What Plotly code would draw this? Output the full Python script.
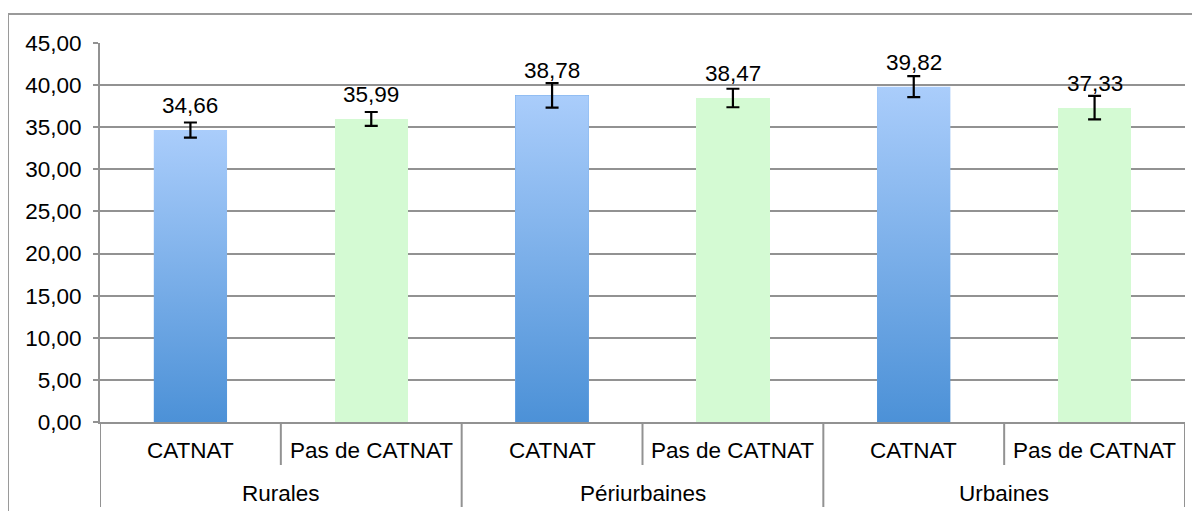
import plotly.graph_objects as go

groups = ["Rurales", "Périurbaines", "Urbaines"]
subcats = ["CATNAT", "Pas de CATNAT", "CATNAT", "Pas de CATNAT", "CATNAT", "Pas de CATNAT"]
values = [34.66, 35.99, 38.78, 38.47, 39.82, 37.33]
errors = [0.9, 0.82, 1.45, 1.1, 1.25, 1.4]
y_ticks = [0, 5, 10, 15, 20, 25, 30, 35, 40, 45]

BLUE_TOP = "#AACDFB"
BLUE_BOT = "#4C91D7"
BLUE_MID = "#79AEEA"
GREEN = "#D4FAD3"
GRID = "#929292"
FONT = "Liberation Sans, Arial, sans-serif"
FS = 22.5

idx = list(range(len(values)))
BW = 0.405

fig = go.Figure()

bar_colors = [BLUE_MID if s == "CATNAT" else GREEN for s in subcats]
fig.add_trace(go.Bar(x=idx, y=values, width=BW, marker=dict(color=bar_colors, line=dict(width=0)),
                     hoverinfo="skip", showlegend=False))

# gradient overlays for CATNAT bars
for i, (s, v) in enumerate(zip(subcats, values)):
    if s != "CATNAT":
        continue
    fig.add_trace(go.Scatter(
        x=[i - BW / 2, i - BW / 2, i + BW / 2, i + BW / 2, i - BW / 2],
        y=[0, v, v, 0, 0],
        mode="lines", line=dict(width=0), fill="toself",
        fillgradient=dict(type="vertical", start=0, stop=v,
                          colorscale=[[0, BLUE_BOT], [1, BLUE_TOP]]),
        hoverinfo="skip", showlegend=False))

# error bars
fig.add_trace(go.Scatter(x=idx, y=values, mode="markers", marker=dict(opacity=0, size=1),
                         error_y=dict(type="data", array=errors, visible=True,
                                      color="black", thickness=2.2, width=6.5),
                         hoverinfo="skip", showlegend=False))

# data labels
for i, v in enumerate(values):
    fig.add_annotation(x=i, y=v, xref="x", yref="y", text=f"{v:.2f}".replace(".", ","),
                       showarrow=False, yanchor="bottom", yshift=10,
                       font=dict(family=FONT, size=FS, color="black"))

PLOT_H = 379.0
def py(px):
    return (422 - px) / PLOT_H

def pxx(px):
    return (px - 100) / 1085.0

# inner category labels
for i, s in enumerate(subcats):
    fig.add_annotation(x=i, y=py(450), xref="x", yref="paper", text=s, showarrow=False,
                       yanchor="middle", font=dict(family=FONT, size=FS, color="black"))
# outer group labels
for g, name in enumerate(groups):
    fig.add_annotation(x=2 * g + 0.5, y=py(493), xref="x", yref="paper", text=name,
                       showarrow=False, yanchor="middle",
                       font=dict(family=FONT, size=FS, color="black"))

# separators
for k in range(len(groups)):
    fig.add_shape(type="line", xref="x", yref="paper", x0=2 * k + 0.5, x1=2 * k + 0.5,
                  y0=0, y1=py(465), line=dict(color=GRID, width=2))
for k in range(len(groups) + 1):
    xb = 2 * k - 0.5
    fig.add_shape(type="line", xref="x", yref="paper", x0=xb, x1=xb,
                  y0=0, y1=py(507), line=dict(color=GRID, width=2))

# outer frame (left and top)
fig.add_shape(type="line", xref="paper", yref="paper",
              x0=pxx(8), x1=pxx(8), y0=py(14), y1=py(520),
              line=dict(color="#9A9A9A", width=2))
fig.add_shape(type="line", xref="paper", yref="paper",
              x0=pxx(8), x1=pxx(1210), y0=py(14), y1=py(14),
              line=dict(color="#9A9A9A", width=2))

fig.update_layout(
    width=1192, height=503,
    margin=dict(l=92, r=15, t=35, b=89),
    plot_bgcolor="white", paper_bgcolor="white",
    separators=", ",
    font=dict(family=FONT, size=FS, color="black"),
    bargap=0,
    showlegend=False,
)
fig.update_xaxes(range=[-0.5, 5.5], showticklabels=False, showgrid=False, zeroline=False,
                 showline=True, linecolor=GRID, linewidth=2, ticks="")
fig.update_yaxes(range=[0, 45], tickvals=y_ticks, tickformat=".2f", showgrid=True,
                 gridcolor=GRID, gridwidth=2, zeroline=False, showline=True,
                 linecolor=GRID, linewidth=2, ticks="outside", ticklen=5, tickcolor=GRID,
                 tickwidth=2, ticklabelstandoff=7,
                 tickfont=dict(family=FONT, size=FS, color="black"))

fig.write_html("out.html")
